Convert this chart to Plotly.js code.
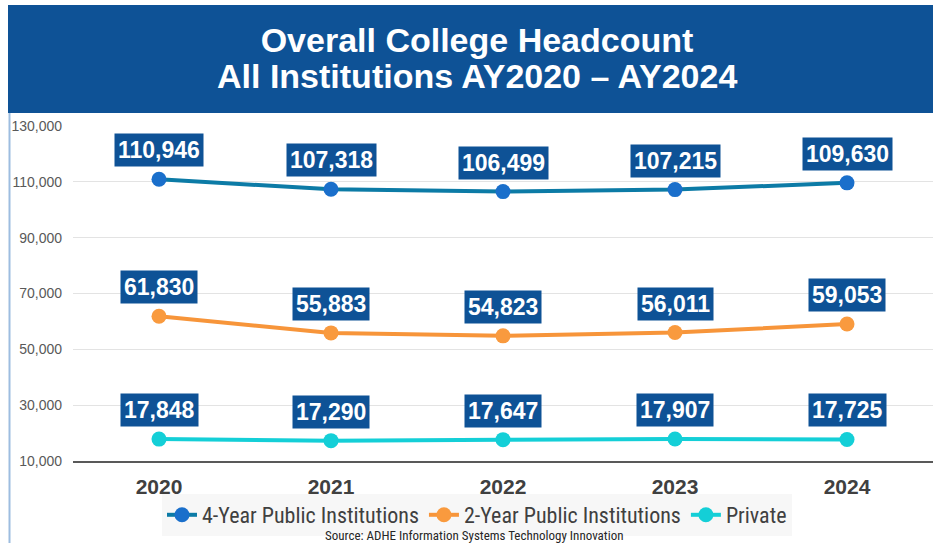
<!DOCTYPE html>
<html>
<head>
<meta charset="utf-8">
<script src="https://cdn.plot.ly/plotly-3.0.1.min.js"></script>
<style>html,body{margin:0;padding:0;background:#fff;}#chart{width:933px;height:543px;}</style>
</head>
<body>
<div id="chart"></div>
<script>
const years = ["2020", "2021", "2022", "2023", "2024"];
const fourYear = [110946, 107318, 106499, 107215, 109630];
const twoYear = [61830, 55883, 54823, 56011, 59053];
const privateInst = [17848, 17290, 17647, 17907, 17725];
const seriesNames = ["4-Year Public Institutions", "2-Year Public Institutions", "Private"];
const titleLines = ["Overall College Headcount", "All Institutions AY2020 \u2013 AY2024"];
const sourceText = "Source: ADHE Information Systems Technology Innovation";

const seriesData = [fourYear, twoYear, privateInst];
const lineColors = ["#0C7BA6", "#F7953A", "#14CFD7"];
const markerColors = ["#1A6FCB", "#F99A3E", "#14CFD7"];

const narrow = "Liberation Sans Narrow, Arial Narrow, Roboto Condensed, Roboto, sans-serif";
const arial = "Arial, Liberation Sans, sans-serif";

const traces = seriesData.map((vals, i) => ({
  type: "scatter",
  mode: "lines+markers",
  x: years,
  y: vals,
  name: seriesNames[i],
  line: {color: lineColors[i], width: 4},
  marker: {color: markerColors[i], size: 15},
  hoverinfo: "skip"
}));

const P = (px) => (px - 73) / 860;
const Q = (py) => (461 - py) / 335;

const annotations = [];
seriesData.forEach(vals => {
  vals.forEach((v, j) => {
    annotations.push({
      x: j, y: v, xref: "x", yref: "y",
      text: v.toLocaleString("en-US"),
      showarrow: false,
      yshift: 29,
      bgcolor: "#0E5296",
      borderpad: 3,
      font: {family: arial, size: 23, color: "#ffffff", weight: "bold"}
    });
  });
});
annotations.push({
  xref: "paper", yref: "paper", x: P(474), y: Q(535.5),
  text: sourceText, showarrow: false, xanchor: "center", yanchor: "middle",
  font: {family: narrow, size: 13, color: "#262626"}
});
annotations.push({
  xref: "paper", yref: "paper", x: P(477), y: Q(76),
  text: titleLines[1], showarrow: false, xanchor: "center", yanchor: "middle",
  font: {family: arial, size: 34, color: "#ffffff", weight: "bold"}
});

const layout = {
  width: 933, height: 543,
  margin: {l: 73, r: 0, t: 126, b: 82},
  paper_bgcolor: "#ffffff",
  plot_bgcolor: "#ffffff",
  showlegend: true,
  title: {
    text: titleLines[0],
    x: 477 / 933, xanchor: "center", xref: "container",
    y: 1 - 40 / 543, yanchor: "middle", yref: "container",
    font: {family: arial, size: 34, color: "#ffffff", weight: "bold"}
  },
  xaxis: {
    type: "category",
    range: [-0.5, 4.5],
    showgrid: false,
    showline: true, linecolor: "#595959", linewidth: 2,
    ticks: "",
    tickfont: {family: arial, size: 21, color: "#404040", weight: "bold"},
    ticklabelstandoff: 6,
    fixedrange: true
  },
  yaxis: {
    range: [10000, 130000],
    tick0: 10000, dtick: 20000,
    tickformat: ",",
    showgrid: true, gridcolor: "#E3E3E3", gridwidth: 1,
    zeroline: false, showline: false,
    ticks: "",
    tickfont: {family: arial, size: 14, color: "#595959"},
    ticklabelstandoff: 10,
    fixedrange: true
  },
  legend: {
    orientation: "h",
    x: P(477), xanchor: "center",
    y: Q(515), yanchor: "middle",
    bgcolor: "#F7F7F7",
    font: {family: narrow, size: 22, color: "#404040"},
    itemwidth: 30,
    tracegroupgap: 0,
    traceorder: "normal"
  },
  shapes: [
    {type: "rect", xref: "paper", yref: "paper", x0: P(8), x1: P(933), y0: Q(113), y1: Q(5),
     fillcolor: "#0E5296", line: {width: 0}, layer: "below"},
    {type: "line", xref: "paper", yref: "paper", x0: P(9.5), x1: P(9.5), y0: Q(113), y1: Q(543),
     line: {color: "#9DBDE0", width: 2}, layer: "below"}
  ],
  annotations: annotations
};

Plotly.newPlot("chart", traces, layout, {displayModeBar: false, staticPlot: true});
</script>
</body>
</html>
